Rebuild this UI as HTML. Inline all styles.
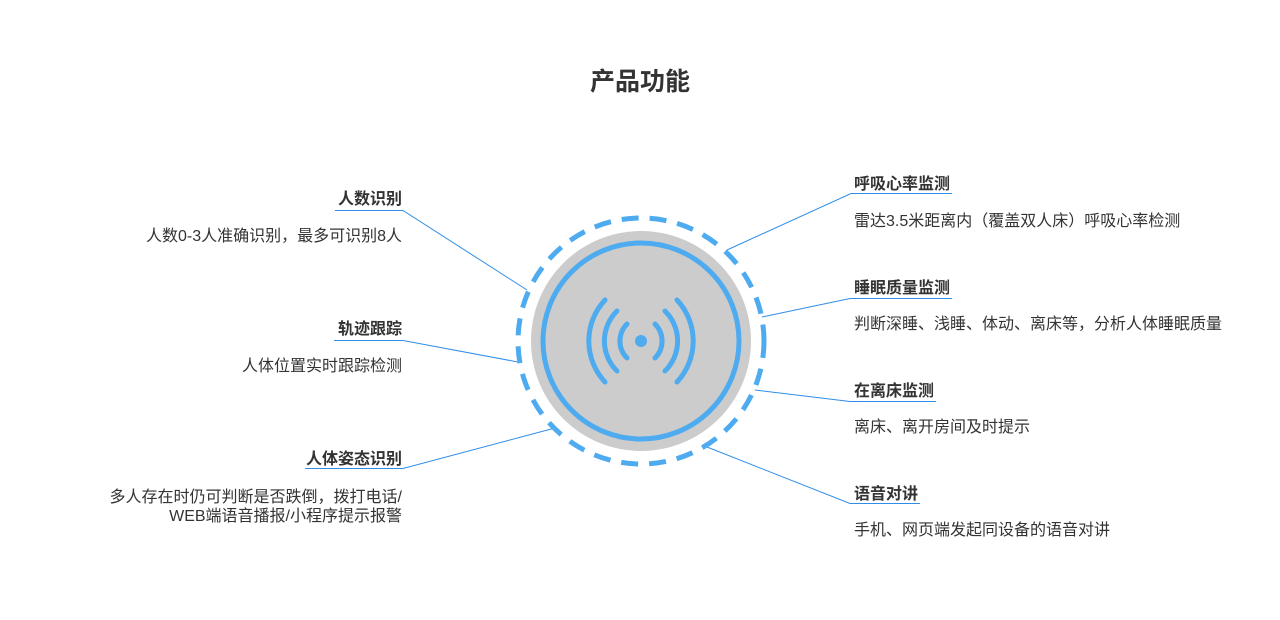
<!DOCTYPE html>
<html><head><meta charset="utf-8"><style>
body{margin:0;width:1280px;height:620px;background:#fff;position:relative;overflow:hidden;font-family:"Liberation Sans","Noto Sans CJK SC",sans-serif;color:#333}
.t{position:absolute;font-size:16px;font-weight:bold;line-height:20px;white-space:nowrap}
.d{position:absolute;font-size:16px;line-height:18px;white-space:nowrap}
.r{text-align:right}
</style></head><body>
<div class="t" style="left:0;width:1280px;text-align:center;top:67px;font-size:25px;line-height:30px">产品功能</div>
<svg width="1280" height="620" style="position:absolute;left:0;top:0">
<g stroke="#2f8ee8" stroke-width="1" fill="none">
<polyline points="335,210.5 403,210.5 527,290"/>
<polyline points="334,340.5 403,340.5 518,362"/>
<polyline points="305,468.5 403,468.5 555,428"/>
<polyline points="952,193.5 851,193.5 727,250"/>
<polyline points="952,298.5 850,298.5 762,317"/>
<polyline points="936,401.5 850,401.5 755,390"/>
<polyline points="920,503.5 850,503.5 707,447"/>
</g>
<circle cx="641" cy="341" r="110" fill="#cccccc"/>
<circle cx="641" cy="341" r="98" fill="none" stroke="#4eabf0" stroke-width="5"/>
<circle cx="641" cy="341" r="123" fill="none" stroke="#4eabf0" stroke-width="5" stroke-dasharray="17 11"/>
<g stroke="#4eabf0" stroke-width="5" fill="none" stroke-linecap="round">
<circle cx="641" cy="341" r="6" fill="#4eabf0" stroke="none"/>
<path d="M627,324 A24,24 0 0 0 627,358"/>
<path d="M655,324 A24,24 0 0 1 655,358"/>
<path d="M617,311 A42,42 0 0 0 617,371"/>
<path d="M665,311 A42,42 0 0 1 665,371"/>
<path d="M605,300 A60,60 0 0 0 605,382"/>
<path d="M677,300 A60,60 0 0 1 677,382"/>
</g>
</svg>
<div class="t r" style="right:878px;top:190px">人数识别</div>
<div class="d r" style="right:878px;top:228px">人数0-3人准确识别，最多可识别8人</div>
<div class="t r" style="right:878px;top:320px">轨迹跟踪</div>
<div class="d r" style="right:878px;top:358px">人体位置实时跟踪检测</div>
<div class="t r" style="right:878px;top:450px">人体姿态识别</div>
<div class="d r" style="right:878px;top:488px;line-height:19px">多人存在时仍可判断是否跌倒，拨打电话/<br>WEB端语音播报/小程序提示报警</div>
<div class="t" style="left:854px;top:175px">呼吸心率监测</div>
<div class="d" style="left:854px;top:213px">雷达3.5米距离内（覆盖双人床）呼吸心率检测</div>
<div class="t" style="left:854px;top:279px">睡眠质量监测</div>
<div class="d" style="left:854px;top:316px">判断深睡、浅睡、体动、离床等，分析人体睡眠质量</div>
<div class="t" style="left:854px;top:382px">在离床监测</div>
<div class="d" style="left:854px;top:419px">离床、离开房间及时提示</div>
<div class="t" style="left:854px;top:485px">语音对讲</div>
<div class="d" style="left:854px;top:522px">手机、网页端发起同设备的语音对讲</div>
</body></html>
